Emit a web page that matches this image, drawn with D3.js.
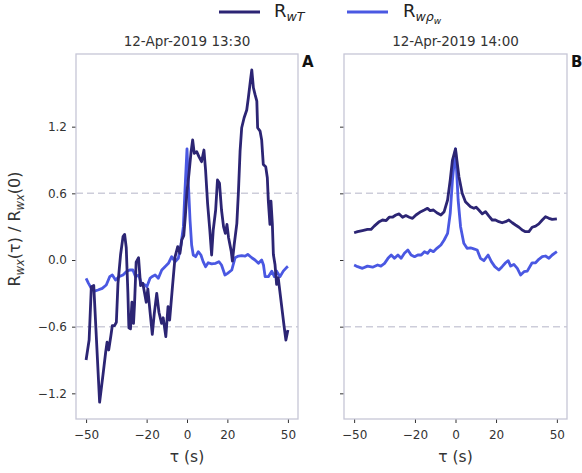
<!DOCTYPE html>
<html>
<head>
<meta charset="utf-8">
<script src="https://cdn.jsdelivr.net/npm/d3@7"></script>
<style>
  body { margin: 0; background: #fff; }
  svg { display: block; font-family: "DejaVu Sans", sans-serif; }
</style>
</head>
<body>
<div id="chart"></div>
<script>
// lag values (s) and normalised correlations, panel A (13:30)
var tauA_wT = [-50, -48.5, -47.4, -46.2, -43.3, -41.6, -40.3, -39.6, -38.8, -37.7, -37, -35.9, -35, -34.2, -32.9, -31.7, -30.9, -30.1, -29.3, -28.8, -28, -27.3, -26.5, -26, -25.2, -24, -23, -21.9, -20.2, -19.4, -18.3, -17.2, -16.2, -15, -13.9, -12.6, -11.8, -10.5, -9.4, -8.6, -7.2, -5.9, -4.6, -3.5, -2.6, -1.6, -0.8, 0, 1, 2, 2.8, 3.6, 4.8, 5.9, 7.2, 8.4, 9.2, 10.2, 11.3, 12.2, 13, 14.2, 15.1, 16.1, 17.1, 18.1, 19, 19.8, 20.6, 21.9, 22.5, 23.4, 24.7, 25.5, 26.3, 27.1, 28.3, 29.6, 30.4, 31.6, 32.1, 32.9, 33.7, 34.6, 35, 36.2, 37, 37.8, 39, 39.8, 40.3, 41.1, 41.6, 42.3, 42.8, 43.6, 44.4, 45.2, 46, 47.2, 48.2, 49, 50];
var valA_wT = [-0.90, -0.72, -0.24, -0.23, -1.28, -1.03, -0.83, -0.74, -0.81, -0.68, -0.59, -0.59, -0.56, -0.21, 0.05, 0.21, 0.23, 0.11, -0.29, -0.61, -0.62, -0.38, -0.57, -0.40, -0.02, 0.02, -0.23, -0.21, -0.38, -0.26, -0.47, -0.67, -0.48, -0.30, -0.47, -0.57, -0.52, -0.69, -0.42, -0.54, -0.24, 0.03, 0.12, 0.06, 0.18, 0.22, 0.40, 0.62, 0.78, 0.97, 1.08, 0.96, 0.975, 0.93, 0.885, 0.99, 0.81, 0.51, 0.27, 0.045, 0.27, 0.45, 0.72, 0.69, 0.45, 0.30, 0.24, 0.32, 0.20, 0.08, -0.01, 0.14, 0.33, 0.62, 0.98, 1.19, 1.28, 1.35, 1.46, 1.64, 1.71, 1.55, 1.49, 1.43, 1.19, 1.16, 1.08, 0.86, 0.84, 0.74, 0.53, 0.32, 0.53, 0.32, 0.05, -0.04, -0.22, -0.16, -0.28, -0.46, -0.61, -0.72, -0.63];

var tauA_wRho = [-50, -48.8, -47.4, -45.8, -44.1, -42, -40, -38.3, -37, -35.4, -33.7, -31.7, -30.1, -28.4, -26.8, -25.5, -23.9, -22.7, -20.7, -19.9, -18.3, -17.4, -15.8, -14.2, -12.5, -10.9, -9.2, -7.6, -5.9, -4.3, -3, -1.8, -1, 0, 0.6, 1.5, 2.3, 3.1, 4.3, 5.6, 6.9, 8, 9.2, 10.5, 12.2, 14.2, 15.8, 17.1, 18.8, 20.1, 22.2, 23.8, 25.5, 27.1, 28.8, 30.1, 32.1, 33.7, 35.4, 37, 37.9, 38.7, 40.3, 42, 43.3, 44.4, 46.1, 47.7, 49.4, 50];
var valA_wRho = [-0.165, -0.21, -0.255, -0.28, -0.27, -0.255, -0.225, -0.15, -0.135, -0.18, -0.15, -0.135, -0.105, -0.09, -0.09, -0.15, -0.135, -0.21, -0.225, -0.24, -0.165, -0.15, -0.135, -0.165, -0.09, -0.06, -0.03, 0.03, -0.015, 0.015, 0.135, 0.30, 0.63, 1.0, 0.72, 0.36, 0.135, 0.045, 0.03, 0.075, 0.045, -0.015, -0.06, -0.025, -0.035, -0.03, -0.015, -0.045, -0.135, -0.12, -0.09, 0.02, 0.035, 0.04, 0.035, 0.05, 0.02, 0.0, -0.03, 0.0, -0.045, -0.15, -0.15, -0.10, -0.15, -0.10, -0.15, -0.10, -0.066, -0.057];

// panel B (14:00)
var tauB_wT = [-50, -48.3, -45.9, -43.4, -41.7, -40.1, -37.6, -36, -34.2, -32.7, -31.1, -29.4, -27.8, -26.1, -24.5, -22.8, -21.2, -19.5, -17.1, -15.4, -13.8, -12.5, -10.9, -9.2, -7.2, -5.6, -3.9, -2.6, -1.5, 0, 1.7, 3.3, 4.9, 7.4, 9.1, 10.2, 11.5, 13.2, 14.8, 16.5, 18.1, 19.7, 21.4, 23, 24.7, 26.3, 28, 29.6, 31.3, 32.9, 34.5, 36.2, 37.8, 39.5, 41.1, 42.8, 44.4, 46.1, 47.7, 50];
var valB_wT = [0.245, 0.255, 0.265, 0.275, 0.275, 0.305, 0.345, 0.36, 0.355, 0.385, 0.385, 0.405, 0.415, 0.385, 0.40, 0.385, 0.375, 0.405, 0.435, 0.45, 0.465, 0.445, 0.45, 0.425, 0.405, 0.435, 0.54, 0.72, 0.90, 1.0, 0.75, 0.60, 0.525, 0.48, 0.465, 0.475, 0.45, 0.415, 0.435, 0.395, 0.36, 0.36, 0.345, 0.335, 0.345, 0.36, 0.335, 0.315, 0.295, 0.27, 0.255, 0.255, 0.295, 0.305, 0.325, 0.36, 0.39, 0.375, 0.365, 0.37];

var tauB_wRho = [-50, -48.3, -45.9, -43.4, -40.9, -38.4, -36.8, -35, -33.3, -31.7, -30.1, -28.4, -26.8, -25.2, -23.5, -21.9, -20.2, -18.6, -16.9, -15.3, -13.8, -12.5, -10.9, -9.2, -7.2, -5.6, -3.9, -2.6, -1.5, 0, 1.3, 2.5, 4.1, 5.7, 7.4, 9, 10.7, 12.3, 14, 16.1, 17.7, 19.4, 21.4, 23, 24.7, 26, 27.2, 28.8, 30.5, 32.1, 33.8, 35.4, 37.8, 39.5, 41.1, 42.8, 44.4, 46.1, 47.7, 50];
var valB_wRho = [-0.045, -0.06, -0.075, -0.055, -0.065, -0.045, -0.055, -0.03, 0.015, 0.045, 0.015, 0.045, 0.015, 0.06, 0.09, 0.045, 0.03, 0.045, 0.045, 0.075, 0.06, 0.09, 0.075, 0.105, 0.135, 0.18, 0.24, 0.42, 0.72, 1.0, 0.54, 0.30, 0.15, 0.105, 0.11, 0.10, 0.09, 0.015, -0.006, 0.045, -0.015, -0.06, -0.09, -0.06, -0.025, -0.006, -0.055, -0.04, -0.075, -0.135, -0.105, -0.10, -0.025, -0.025, 0.006, 0.03, 0.036, 0.015, 0.045, 0.075];

var panelTitles = ['12-Apr-2019 13:30', '12-Apr-2019 14:00'];
var panelLetters = ['A', 'B'];
var xTicks = [-50, -20, 0, 20, 50];
var yTicks = [-1.2, -0.6, 0, 0.6, 1.2];
var refLines = [-0.6, 0.6];

var colWT = '#2c2574', colRho = '#4a58e2';

var W = 582, H = 473;
var plotTop = 54, plotBottom = 419;
var panels = [
  {x0: 76, x1: 298, wT: [tauA_wT, valA_wT], rho: [tauA_wRho, valA_wRho], labels: true},
  {x0: 344, x1: 567, wT: [tauB_wT, valB_wT], rho: [tauB_wRho, valB_wRho], labels: false}
];

var svg = d3.select('#chart').append('svg')
    .attr('width', W)
    .attr('height', H);

var y = d3.scaleLinear().domain([-1.431, 1.854]).range([plotBottom, plotTop]);

function zip(a) {
  return a[0].map(function(t, i) { return [t, a[1][i]]; });
}

panels.forEach(function(p, k) {
  var x = d3.scaleLinear().domain([-55, 55]).range([p.x0, p.x1]);
  var g = svg.append('g');

  // dashed reference lines
  g.selectAll('line.ref')
    .data(refLines)
    .enter().append('line')
    .attr('x1', p.x0).attr('x2', p.x1)
    .attr('y1', function(d) { return y(d); })
    .attr('y2', function(d) { return y(d); })
    .attr('stroke', '#cdcdda')
    .attr('stroke-width', 1.5)
    .attr('stroke-dasharray', '7,4');

  var line = d3.line()
    .x(function(d) { return x(d[0]); })
    .y(function(d) { return y(d[1]); });

  g.append('path').datum(zip(p.rho))
    .attr('d', line).attr('fill', 'none')
    .attr('stroke', colRho).attr('stroke-width', 2.8)
    .attr('stroke-linejoin', 'round');

  g.append('path').datum(zip(p.wT))
    .attr('d', line).attr('fill', 'none')
    .attr('stroke', colWT).attr('stroke-width', 2.8)
    .attr('stroke-linejoin', 'round');

  // axes
  var xa = g.append('g')
    .attr('transform', 'translate(0,' + plotBottom + ')')
    .call(d3.axisBottom(x).tickValues(xTicks).tickSize(4).tickPadding(4).tickFormat(d3.format('d')));
  var ya = g.append('g')
    .attr('transform', 'translate(' + p.x0 + ',0)')
    .call(d3.axisLeft(y).tickValues(yTicks).tickSize(4).tickPadding(5)
      .tickFormat(p.labels ? d3.format('.1f') : ''));
  [xa, ya].forEach(function(a) {
    a.select('.domain').remove();
    a.selectAll('line').attr('stroke', '#333').attr('stroke-width', 1);
    a.selectAll('text').attr('fill', '#333').attr('font-size', 12)
      .attr('font-family', '"DejaVu Sans", sans-serif');
  });
  xa.selectAll('text').attr('dy', '1em');

  // spines
  g.append('rect')
    .attr('x', p.x0).attr('y', plotTop)
    .attr('width', p.x1 - p.x0).attr('height', plotBottom - plotTop)
    .attr('fill', 'none').attr('stroke', '#c6c6d6').attr('stroke-width', 1.3);

  g.append('text')
    .attr('x', (p.x0 + p.x1) / 2).attr('y', 46)
    .attr('text-anchor', 'middle').attr('font-size', 13.5).attr('fill', '#333')
    .text(panelTitles[k]);

  g.append('text')
    .attr('x', p.x1 + 4).attr('y', 67)
    .attr('font-size', 15).attr('font-weight', 'bold').attr('fill', '#111')
    .text(panelLetters[k]);

  g.append('text')
    .attr('x', (p.x0 + p.x1) / 2).attr('y', 462)
    .attr('text-anchor', 'middle').attr('font-size', 15.5).attr('fill', '#333')
    .text('\u03c4 (s)');
});

// y label
var yl = svg.append('text')
  .attr('transform', 'translate(20,229) rotate(-90)')
  .attr('text-anchor', 'middle').attr('font-size', 16).attr('fill', '#333');
yl.append('tspan').text('R');
yl.append('tspan').attr('dy', 4).attr('font-size', 11.5).attr('font-style', 'italic').text('wx');
yl.append('tspan').attr('dy', -4).text('(\u03c4) / R');
yl.append('tspan').attr('dy', 4).attr('font-size', 11.5).attr('font-style', 'italic').text('wx');
yl.append('tspan').attr('dy', -4).text('(0)');

// legend
var leg = svg.append('g');
leg.append('line').attr('x1', 219).attr('x2', 260).attr('y1', 12).attr('y2', 12)
  .attr('stroke', colWT).attr('stroke-width', 2.8);
leg.append('line').attr('x1', 347).attr('x2', 388).attr('y1', 12).attr('y2', 12)
  .attr('stroke', colRho).attr('stroke-width', 2.8);
var t1 = leg.append('text').attr('x', 274).attr('y', 17).attr('font-size', 18).attr('fill', '#222');
t1.append('tspan').text('R');
t1.append('tspan').attr('dy', 4).attr('font-size', 12.6).attr('font-style', 'italic').text('wT');
var t2 = leg.append('text').attr('x', 403).attr('y', 17).attr('font-size', 18).attr('fill', '#222');
t2.append('tspan').text('R');
t2.append('tspan').attr('dy', 4).attr('font-size', 12.6).attr('font-style', 'italic').text('w\u03c1');
t2.append('tspan').attr('dy', 3).attr('font-size', 9).attr('font-style', 'italic').text('w');
</script>
</body>
</html>
